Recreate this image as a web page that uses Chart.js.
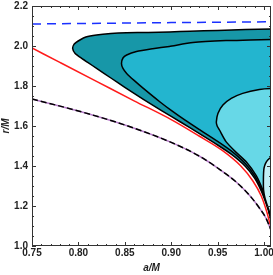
<!DOCTYPE html>
<html>
<head>
<meta charset="utf-8">
<script src="https://cdn.jsdelivr.net/npm/chart.js@4.4.1/dist/chart.umd.min.js"></script>
<style>
    html, body { margin: 0; padding: 0; background: #fff; }
    canvas { display: block; }
</style>
</head>
<body>
<canvas id="chart" width="273" height="275"></canvas>
<script>
// Tick labels
const xTicks = [0.75, 0.8, 0.85, 0.9, 0.95, 1.0];
const yTicks = [1.0, 1.2, 1.4, 1.6, 1.8, 2.0, 2.2];

// Blue dashed line near the top
const blueA = [0.75, 0.9, 1.0075];
const blueR = [2.11, 2.117, 2.121];

// Red curve
const redA = [0.75, 0.78, 0.82, 0.86, 0.9, 0.93, 0.955, 0.975, 0.988, 0.997, 1.003, 1.0075];
const redR = [1.99, 1.918, 1.822, 1.726, 1.632, 1.55, 1.478, 1.4, 1.325, 1.25, 1.17, 1.09];

// Black dashed curve
const hzA = [0.75, 0.8, 0.85, 0.9, 0.93, 0.95, 0.97, 0.985, 0.995, 1.002, 1.0075];
const hzR = [1.735, 1.675, 1.605, 1.518, 1.45, 1.39, 1.32, 1.25, 1.19, 1.14, 1.08];

// Outer region (darkest): top edge right to left, then lower edge back to the right
const reg1A = [1.04, 1.0075, 0.98, 0.95, 0.92, 0.898, 0.875, 0.852, 0.835, 0.8195, 0.808, 0.8016, 0.7955, 0.7938,
    0.7965, 0.802, 0.81, 0.82, 0.835, 0.85, 0.87, 0.89, 0.91, 0.93, 0.95, 0.965, 0.98, 0.99, 0.997, 1.002, 1.006, 1.009, 1.04];
const reg1R = [2.088, 2.085, 2.082, 2.078, 2.074, 2.07, 2.068, 2.066, 2.062, 2.055, 2.045, 2.03, 2.01, 1.988,
    1.962, 1.943, 1.918, 1.887, 1.84, 1.793, 1.733, 1.676, 1.62, 1.563, 1.505, 1.458, 1.398, 1.338, 1.275, 1.215, 1.158, 1.11, 1.11];

// Second region
const reg2A = [1.04, 1.0075, 0.985, 0.959, 0.9234, 0.898, 0.88, 0.8626, 0.852, 0.848, 0.8464,
    0.848, 0.852, 0.86, 0.87, 0.888, 0.9, 0.915, 0.93, 0.95, 0.965, 0.98, 0.99, 0.997, 1.002, 1.006, 1.009, 1.04];
const reg2R = [2.034, 2.033, 2.03, 2.027, 2.017, 1.998, 1.986, 1.972, 1.955, 1.94, 1.913,
    1.888, 1.863, 1.828, 1.788, 1.72, 1.678, 1.629, 1.583, 1.523, 1.474, 1.411, 1.35, 1.286, 1.225, 1.166, 1.11, 1.11];

// Third region
const reg3A = [1.04, 1.0075, 0.995, 0.977, 0.9647, 0.9557, 0.9503, 0.9486, 0.9495, 0.952, 0.959, 0.97, 0.981,
    0.9916, 0.9987, 1.004, 1.0075, 1.04];
const reg3R = [1.79, 1.788, 1.783, 1.763, 1.738, 1.705, 1.663, 1.62, 1.6, 1.58, 1.522, 1.468, 1.42,
    1.352, 1.28, 1.21, 1.14, 1.14];

// Fourth region (palest)
const reg4A = [1.04, 1.0075, 1.004, 1.0015, 1.0, 0.9995, 0.9993, 0.9995, 1.001, 1.003, 1.0055, 1.0075, 1.04];
const reg4R = [1.445, 1.443, 1.43, 1.412, 1.39, 1.365, 1.32, 1.28, 1.24, 1.21, 1.175, 1.14, 1.14];

function pts(a, r) {
    return a.map((v, i) => ({ x: v, y: r[i] }));
}

const labelFont = { family: "'Liberation Sans', Arial, sans-serif", size: 10, weight: "bold" };
const titleFont = { family: "'Liberation Sans', Arial, sans-serif", size: 10, weight: "bold", style: "italic" };

function region(a, r, color, order) {
    return {
        data: pts(a, r),
        borderColor: "#000",
        borderWidth: 1.5,
        backgroundColor: color,
        fill: "shape",
        tension: 0.2,
        order: order,
    };
}

function curve(a, r, color, dash, order) {
    return {
        data: pts(a, r),
        borderColor: color,
        borderWidth: 1.5,
        borderDash: dash,
        fill: false,
        cubicInterpolationMode: "monotone",
        order: order,
    };
}

// Frame with inward ticks on all four sides
const frameTicks = {
    id: "frameTicks",
    afterDatasetsDraw(chart) {
        const { ctx, chartArea: area, scales } = chart;
        const xs = scales.x;
        const ys = scales.y;
        ctx.save();
        ctx.strokeStyle = "#333";
        ctx.lineWidth = 1;
        ctx.strokeRect(area.left + 0.5, area.top + 0.5, area.right - area.left - 1, area.bottom - area.top - 1);

        ctx.beginPath();
        for (let i = 75; i <= 100; i++) {
            const len = i % 5 === 0 ? 4 : 2;
            const px = Math.round(xs.getPixelForValue(i / 100)) + 0.5;
            ctx.moveTo(px, area.bottom);
            ctx.lineTo(px, area.bottom - len);
            ctx.moveTo(px, area.top);
            ctx.lineTo(px, area.top + len);
        }
        for (let i = 20; i <= 44; i++) {
            const len = i % 4 === 0 ? 4 : 2;
            const py = Math.round(ys.getPixelForValue(i / 20)) + 0.5;
            ctx.moveTo(area.left, py);
            ctx.lineTo(area.left + len, py);
            ctx.moveTo(area.right, py);
            ctx.lineTo(area.right - len, py);
        }
        ctx.stroke();
        ctx.restore();
    },
};

new Chart(document.getElementById("chart"), {
    type: "line",
    data: {
        datasets: [
            region(reg1A, reg1R, "#1797a8", 10),
            region(reg2A, reg2R, "#23b5cf", 9),
            region(reg3A, reg3R, "#67d8e7", 8),
            region(reg4A, reg4R, "#c2f0f6", 7),
            curve(redA, redR, "#ff1a1a", [], 4),
            curve(hzA, hzR, "#b57ac8", [], 3),
            curve(hzA, hzR, "#000", [6, 3], 2),
            curve(blueA, blueR, "#1a30ff", [9, 6], 1),
        ],
    },
    options: {
        responsive: false,
        animation: false,
        devicePixelRatio: 1,
        layout: { padding: { top: 6, right: 2, left: 0, bottom: 0 } },
        elements: { point: { radius: 0 } },
        plugins: {
            legend: { display: false },
            tooltip: { enabled: false },
        },
        scales: {
            x: {
                type: "linear",
                min: 0.75,
                max: 1.0075,
                afterBuildTicks: (s) => {
                    s.ticks = xTicks.map((v) => ({ value: v }));
                },
                afterFit: (s) => {
                    s.height = 29;
                    s.paddingLeft = 0;
                    s.paddingRight = 0;
                },
                grid: { display: false, drawTicks: false },
                border: { display: false },
                ticks: {
                    font: labelFont,
                    color: "#222",
                    padding: 1,
                    maxRotation: 0,
                    autoSkip: false,
                    callback: (v) => Number(v).toFixed(2),
                },
                title: { display: true, text: "a/M", font: titleFont, color: "#222", padding: { top: 0, bottom: 1 } },
            },
            y: {
                type: "linear",
                min: 1.0,
                max: 2.2,
                afterBuildTicks: (s) => {
                    s.ticks = yTicks.map((v) => ({ value: v }));
                },
                afterFit: (s) => {
                    s.width = 32;
                    s.paddingTop = 0;
                    s.paddingBottom = 0;
                },
                grid: { display: false, drawTicks: false },
                border: { display: false },
                ticks: {
                    font: labelFont,
                    color: "#222",
                    padding: 4,
                    autoSkip: false,
                    callback: (v) => Number(v).toFixed(1),
                },
                title: { display: true, text: "r/M", font: titleFont, color: "#222", padding: 0 },
            },
        },
    },
    plugins: [frameTicks],
});
</script>
</body>
</html>
